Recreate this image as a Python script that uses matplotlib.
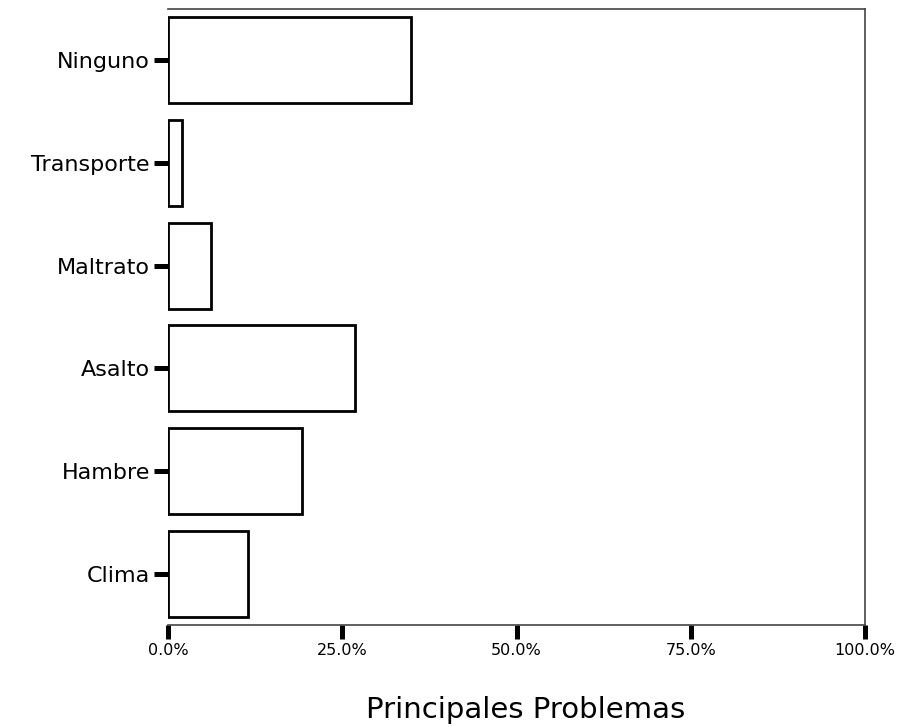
import numpy as np
import matplotlib.pyplot as plt
from matplotlib.ticker import FuncFormatter

# data (percent)
categorias = ['Ninguno', 'Transporte', 'Maltrato', 'Asalto', 'Hambre', 'Clima']
porcentajes = [34.8, 2.0, 6.1, 26.8, 19.2, 11.5]

fig = plt.figure(figsize=(8.99, 7.27), dpi=100)
ax = fig.add_axes([168/899, 1 - 625/727, (865-168)/899, (625-9)/727])

y = np.arange(len(categorias))[::-1]
ax.barh(y, porcentajes, height=0.84, color='white', edgecolor='black', linewidth=2)

ax.set_xlim(0, 100)
ax.set_ylim(-0.5, len(categorias) - 0.5)
ax.set_yticks(y)
ax.set_yticklabels(categorias, fontsize=16, family='DejaVu Sans')
ax.set_xticks([0, 25, 50, 75, 100])
ax.xaxis.set_major_formatter(FuncFormatter(lambda v, p: '{:.1f}%'.format(v)))
for lab in ax.get_xticklabels():
    lab.set_fontsize(11.5)
    lab.set_family('DejaVu Sans')

ax.tick_params(axis='y', length=10, width=3.6, pad=3)
ax.tick_params(axis='x', length=10, width=3.6, pad=3)
ax.spines['left'].set_visible(False)
for s in ['top', 'right', 'bottom']:
    ax.spines[s].set_linewidth(1.2)
    ax.spines[s].set_color('#444444')

# axis title sits low in the figure
fig.text(526/899, 1 - 710/727, 'Principales Problemas', fontsize=21,
         family='DejaVu Sans', ha='center', va='center')

fig.savefig('out.png', dpi=100)
